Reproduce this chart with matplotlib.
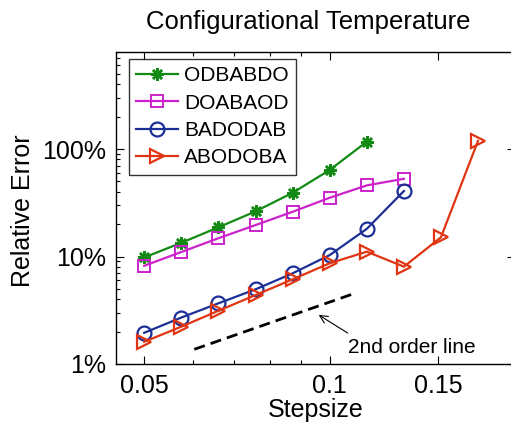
import numpy as np
import matplotlib
matplotlib.use("Agg")
import matplotlib.pyplot as plt
from matplotlib.ticker import FixedLocator, NullFormatter, LogLocator

plt.rcParams['font.family'] = ['Liberation Sans', 'DejaVu Sans']

# stepsizes (0.05 * 2^(k/5))
h = [0.05, 0.0574, 0.066, 0.0758, 0.0871, 0.1, 0.1149, 0.132, 0.1516, 0.1741]

# relative errors in percent
err_odbabdo = [9.8, 13.4, 18.7, 26.3, 39.2, 63.8, 117]
err_doabaod = [8.2, 11.0, 14.8, 19.6, 26.1, 35.2, 45.9, 52.9]
err_badodab = [1.95, 2.70, 3.67, 4.95, 6.98, 10.3, 18.1, 40.7]
err_abodoba = [1.61, 2.22, 3.13, 4.38, 6.14, 8.65, 11.1, 8.04, 15.1, 119]

# 2nd order reference line end points
ref_h = [0.0603, 0.109]
ref_err = [1.37, 1.37 * (0.109 / 0.0603) ** 2]

fig = plt.figure(figsize=(5.11, 4.23), dpi=100)
ax = fig.add_axes([0.227, 0.1395, 0.781, 0.7376])

ax.plot(h[:7], err_odbabdo, color='#138a13', lw=1.6, marker=(8, 2, 0),
        ms=9, mew=1.8, label='ODBABDO')
ax.plot(h[:8], err_doabaod, color='#cc22cc', lw=1.6, marker='s', ms=8,
        mfc='none', mew=1.4, label='DOABAOD')
ax.plot(h[:8], err_badodab, color='#1c2f96', lw=1.6, marker='o', ms=10,
        mfc='none', mew=1.6, label='BADODAB')
ax.plot(h, err_abodoba, color='#e03512', lw=1.6, marker='>', ms=10,
        mfc='none', mew=1.6, label='ABODOBA')
ax.plot(ref_h, ref_err, 'k--', lw=2, dashes=(4, 2.2))

ax.annotate('', xy=(0.096, 2.86), xytext=(0.107, 1.94),
            arrowprops=dict(arrowstyle='->', color='k', lw=0.8,
                            mutation_scale=14, shrinkA=0, shrinkB=0))
ax.text(0.107, 1.42, '2nd order line', fontsize=15, ha='left', va='center')

ax.set_xscale('log')
ax.set_yscale('log')
ax.set_xlim(0.045, 0.2)
ax.set_ylim(1, 800)

ax.xaxis.set_major_locator(FixedLocator([0.05, 0.1, 0.15]))
ax.set_xticklabels(['0.05', '0.1', '0.15'])
ax.xaxis.set_minor_locator(FixedLocator([0.06, 0.07, 0.08, 0.09]))
ax.xaxis.set_minor_formatter(NullFormatter())
ax.yaxis.set_major_locator(FixedLocator([1, 10, 100]))
ax.set_yticklabels(['1%', '10%', '100%'])
ax.yaxis.set_minor_locator(LogLocator(base=10, subs=np.arange(2, 10)))
ax.yaxis.set_minor_formatter(NullFormatter())

ax.tick_params(which='both', direction='in', top=True, right=True,
               labelsize=18, width=0.8)
ax.tick_params(which='major', length=6, pad=7)
ax.tick_params(which='minor', length=3)
for s in ax.spines.values():
    s.set_linewidth(1.0)

ax.set_xlabel('Stepsize', fontsize=18, labelpad=0)
fig.text(0.045, 0.503, 'Relative Error', rotation=90, fontsize=18,
         ha='center', va='center')
fig.text(0.603, 0.948, 'Configurational Temperature', fontsize=18.5,
         ha='center', va='center')

leg = ax.legend(loc='upper left', bbox_to_anchor=(0.0326, 0.9776),
                borderaxespad=0, fontsize=15, frameon=True, fancybox=False,
                edgecolor='k', handlelength=2.0, handletextpad=0.3,
                labelspacing=0.4, borderpad=0.35)
leg.get_frame().set_linewidth(1.0)

fig.savefig('out.png', dpi=100)
